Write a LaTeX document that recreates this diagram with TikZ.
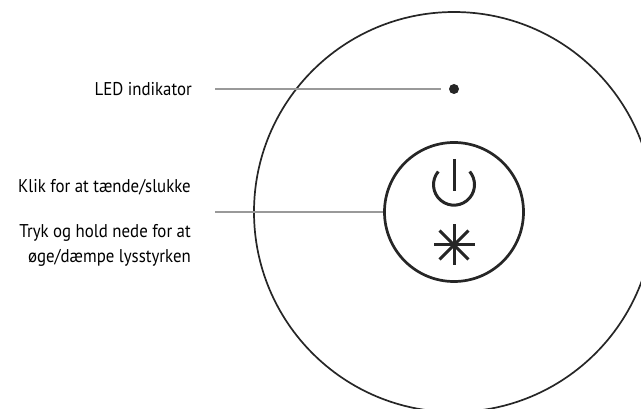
\documentclass[tikz,border=0pt]{standalone}
\usepackage{fontspec}
\setmainfont[FakeStretch=0.91]{PT Sans}
\begin{document}
\begin{tikzpicture}[x=1pt,y=-1pt,
    ring/.style={circle,draw=black!85,inner sep=0pt},
    leader/.style={draw=black!40,line width=2pt},
    symline/.style={draw=black!85,line width=3pt},
    caption/.style={align=right,anchor=east,inner sep=0pt,font=\fontsize{18.5}{25}\selectfont}]
  \useasboundingbox (0,0) rectangle (641,409);
  \clip (0,0) rectangle (641,409);
  \node[ring,line width=1.7pt,minimum size=400pt] (body) at (454,212) {};
  \node[ring,line width=2.7pt,minimum size=139pt] (knap) at (454,212) {};
  \node[circle,fill=black!85,minimum size=10pt,inner sep=0pt] (led) at (454,89) {};
  \node[caption] (ledtxt) at (192,89) {LED indikator};
  \node[caption] (kliktxt) at (191,187) {Klik for at tænde/slukke};
  \node[caption] (tryktxt) at (191,245.5) {Tryk og hold nede for at\\øge/dæmpe lysstyrken};
  \coordinate (ledstart) at (215,89);
  \coordinate (ledend) at (441,89);
  \coordinate (knapstart) at (215,212);
  \draw[leader] (ledstart) -- (ledend);
  \draw[leader] (knapstart) -- (knap.west);
  % taend/sluk
  \draw[symline] (454,159) -- (454,191);
  \draw[symline] (438.3,171.5) arc[start angle=220,end angle=-40,radius=20.5];
  % lysstyrke
  \foreach \a in {0,45,...,315}
    \draw[symline] (454,245) -- +(\a:20.5);
\end{tikzpicture}
\end{document}
